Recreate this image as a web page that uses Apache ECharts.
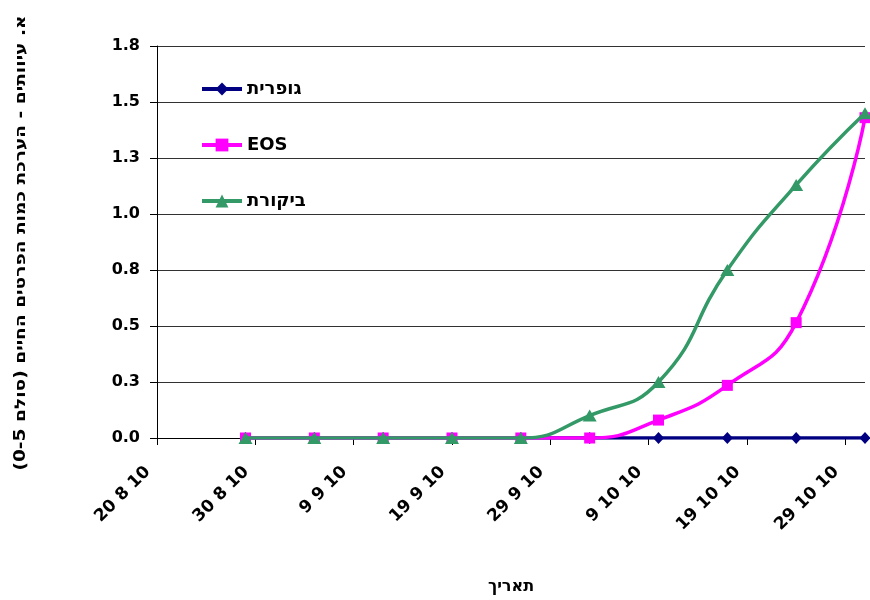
<!DOCTYPE html>
<html>
<head>
<meta charset="utf-8">
<script src="https://cdn.jsdelivr.net/npm/echarts@6/dist/echarts.min.js"></script>
<style>
html,body{margin:0;padding:0;background:#fff;}
#chart{width:870px;height:600px;}
</style>
</head>
<body>
<div id="chart"></div>
<script>
// ---- data ----
var baseDate = '2010-08-20';
var dates = ['2010-08-29','2010-09-05','2010-09-12','2010-09-19','2010-09-26','2010-10-03','2010-10-10','2010-10-17','2010-10-24','2010-10-31'];
var seriesNames = ['גופרית', 'EOS', 'ביקורת'];
var sulfur = [0, 0, 0, 0, 0, 0, 0, 0, 0, 0];
var eos = [0, 0, 0, 0, 0, 0, 0.08, 0.235, 0.515, 1.43];
var control = [0, 0, 0, 0, 0, 0.1, 0.25, 0.75, 1.13, 1.45];
var xTickLabels = ['20 8 10', '30 8 10', '9 9 10', '19 9 10', '29 9 10', '9 10 10', '19 10 10', '29 10 10'];
var yTitle = 'א. עיוותים - הערכת כמות הפרטים החיים (סולם 0-5)';
var xTitle = 'תאריך';

// ---- build ----
function dayOffset(d) {
  var p = d.split('-'), b = baseDate.split('-');
  return (Date.UTC(+p[0], +p[1] - 1, +p[2]) - Date.UTC(+b[0], +b[1] - 1, +b[2])) / 86400000;
}
function pairs(vals) { return vals.map(function (v, i) { return [dayOffset(dates[i]), v]; }); }

var FONT = '"DejaVu Sans", Verdana, sans-serif';
var chart = echarts.init(document.getElementById('chart'), null, {renderer: 'canvas'});
chart.setOption({
  backgroundColor: '#ffffff',
  animation: false,
  grid: {left: 157, right: 5, top: 46, bottom: 157, containLabel: false},
  legend: {
    orient: 'vertical', left: 200, top: 80, padding: 0,
    itemWidth: 40, itemHeight: 16, itemGap: 38,
    data: seriesNames,
    lineStyle: {width: 4},
    textStyle: {fontFamily: FONT, fontWeight: 'bold', fontSize: 18, color: '#000'}
  },
  xAxis: {
    type: 'value', min: 0, max: 72, interval: 10,
    name: xTitle, nameLocation: 'middle', nameGap: 141,
    nameTextStyle: {fontFamily: FONT, fontWeight: 'bold', fontSize: 16, color: '#000'},
    splitLine: {show: false},
    axisLine: {show: true, onZero: false, lineStyle: {color: '#000', width: 1}},
    axisTick: {show: true, length: 7, lineStyle: {color: '#000'}},
    axisLabel: {
      rotate: 45, margin: 22, padding: [0, 13, 0, 0],
      fontFamily: FONT, fontWeight: 'bold', fontSize: 17, color: '#000',
      showMaxLabel: false,
      formatter: function (v) { var i = Math.round(v / 10); return xTickLabels[i] || ''; }
    }
  },
  yAxis: {
    type: 'value', min: 0, max: 1.75, interval: 0.25,
    axisLine: {show: true, lineStyle: {color: '#000', width: 1}},
    axisTick: {show: true, length: 7, lineStyle: {color: '#000'}},
    splitLine: {show: true, lineStyle: {color: '#333', width: 1}},
    axisLabel: {
      margin: 17, fontFamily: FONT, fontWeight: 'bold', fontSize: 16, color: '#000',
      formatter: function (v) { return v.toFixed(1); }
    }
  },
  graphic: [{
    type: 'text', x: 21, y: 243, rotation: Math.PI / 2, scaleX: 1.24,
    style: {
      text: '\u202B' + yTitle + '\u202C',
      font: 'bold 15px ' + FONT, fill: '#000',
      align: 'center', verticalAlign: 'middle'
    }
  }],
  series: [
    {
      name: seriesNames[0], type: 'line', data: pairs(sulfur), smooth: true,
      symbol: 'diamond', symbolSize: [11, 12], z: 2,
      lineStyle: {color: '#000080', width: 3.5}, itemStyle: {color: '#000080'}
    },
    {
      name: seriesNames[1], type: 'line', data: pairs(eos), smooth: true,
      symbol: 'rect', symbolSize: 11, z: 3,
      lineStyle: {color: '#ff00ff', width: 3.5}, itemStyle: {color: '#ff00ff'}
    },
    {
      name: seriesNames[2], type: 'line', data: pairs(control), smooth: true,
      symbol: 'triangle', symbolSize: [14, 12], z: 4,
      lineStyle: {color: '#339966', width: 3.5}, itemStyle: {color: '#339966'}
    }
  ]
});
</script>
</body>
</html>
